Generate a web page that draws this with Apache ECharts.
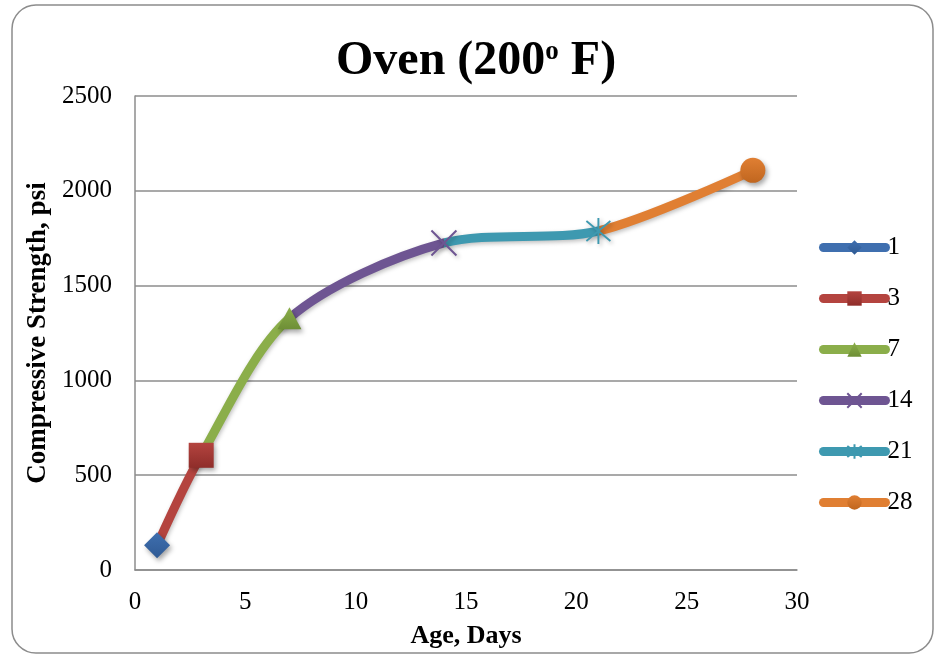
<!DOCTYPE html>
<html>
<head>
<meta charset="utf-8">
<script src="https://cdn.jsdelivr.net/npm/echarts@6/dist/echarts.min.js"></script>
<style>
  html, body { margin: 0; padding: 0; background: #ffffff; }
  #chart { width: 935px; height: 655px; }
</style>
</head>
<body>
<div id="chart"></div>
<script>
// Curing age (days) and compressive strength (psi) for oven-cured specimens
const ageDays = [1, 3, 7, 14, 21, 28];
const strengthPsi = [130, 605, 1328, 1725, 1788, 2108];
const seriesNames = ['1', '3', '7', '14', '21', '28'];
const yTicks = [0, 500, 1000, 1500, 2000, 2500];
const xTicks = [0, 5, 10, 15, 20, 25, 30];

const colors = ['#3F6FAF', '#B4443F', '#8BAE4A', '#6E5592', '#3E99B0', '#E07F33'];
const darkColors = ['#2F5A94', '#8F2D2A', '#6E8F36', '#56417A', '#2E7F94', '#C0661F'];
const symbols = [
  'diamond',
  'rect',
  'triangle',
  'path://M0,0L10,10M10,0L0,10',
  'path://M0,0L10,10M10,0L0,10M5,-1.5L5,11.5',
  'circle'
];
const sizes = [[26, 26], [25, 25], [24, 22], [25, 25], [24, 26], [25, 25]];
const strokeOnly = [false, false, false, true, true, false];

const serif = '"Liberation Serif", "Times New Roman", serif';

function shade(i) {
  return new echarts.graphic.LinearGradient(0, 0, 0, 1, [
    { offset: 0, color: colors[i] },
    { offset: 1, color: darkColors[i] }
  ]);
}

const chart = echarts.init(document.getElementById('chart'));

// one marker series per age, each shown in the legend
const markerSeries = ageDays.map((d, i) => ({
  name: seriesNames[i],
  type: 'line',
  data: [[d, strengthPsi[i]]],
  symbol: symbols[i],
  symbolSize: sizes[i],
  showSymbol: true,
  z: 5,
  lineStyle: { color: colors[i], width: 9 },
  itemStyle: strokeOnly[i]
    ? { color: colors[i], borderColor: colors[i], borderWidth: 2,
        shadowBlur: 4, shadowColor: 'rgba(0,0,0,0.3)', shadowOffsetX: 2, shadowOffsetY: 2 }
    : { color: shade(i), borderWidth: 0,
        shadowBlur: 5, shadowColor: 'rgba(0,0,0,0.35)', shadowOffsetX: 2, shadowOffsetY: 3 },
  emphasis: { disabled: true },
  animation: false
}));

// smooth curve through all points, coloured per segment by the age it ends at
const curveSeries = {
  name: 'curve',
  type: 'line',
  data: ageDays.map((d, i) => [d, strengthPsi[i]]),
  smooth: 0.3,
  showSymbol: false,
  symbol: 'none',
  z: 3,
  lineStyle: { width: 9, cap: 'round',
    shadowBlur: 4, shadowColor: 'rgba(0,0,0,0.25)', shadowOffsetX: 1, shadowOffsetY: 2 },
  emphasis: { disabled: true },
  animation: false
};

const pieces = ageDays.slice(1).map((d, i) => {
  const p = { lte: d, color: colors[i + 1] };
  if (i > 0) p.gt = ageDays[i];
  return p;
});
pieces[pieces.length - 1] = { gt: ageDays[ageDays.length - 2], color: colors[colors.length - 1] };

chart.setOption({
  animation: false,
  backgroundColor: '#ffffff',
  title: {
    text: '{a|Oven (200}{b|o}{a| F)}',
    left: 336,
    top: 38,
    padding: 0,
    textStyle: {
      rich: {
        a: { fontFamily: serif, fontWeight: 'bold', fontSize: 48, color: '#000' },
        b: { fontFamily: serif, fontWeight: 'bold', fontSize: 27, color: '#000', padding: [0, 0, 19, 0] }
      }
    }
  },
  graphic: [{
    type: 'rect',
    shape: { x: 12, y: 5, width: 921, height: 648, r: 24 },
    style: { fill: 'none', stroke: '#8c8c8c', lineWidth: 1.5 },
    silent: true,
    z: -1
  }],
  legend: {
    data: seriesNames,
    orient: 'vertical',
    left: 819,
    top: 235,
    padding: 0,
    itemWidth: 62,
    itemHeight: 18,
    itemGap: 26,
    lineStyle: { width: 9, cap: 'round' },
    textStyle: { fontFamily: serif, fontSize: 25, color: '#000', padding: [0, 0, 0, -3] },
    selectedMode: false
  },
  visualMap: {
    type: 'piecewise',
    show: false,
    dimension: 0,
    seriesIndex: 0,
    pieces: pieces
  },
  grid: { left: 135, right: 138, top: 96, bottom: 85 },
  xAxis: {
    type: 'value',
    min: xTicks[0],
    max: xTicks[xTicks.length - 1],
    interval: xTicks[1] - xTicks[0],
    name: 'Age, Days',
    nameLocation: 'middle',
    nameGap: 53,
    nameTextStyle: { fontFamily: serif, fontWeight: 'bold', fontSize: 26, color: '#000' },
    axisLine: { show: true, lineStyle: { color: '#8c8c8c', width: 1.5 } },
    axisTick: { show: false },
    splitLine: { show: false },
    axisLabel: { fontFamily: serif, fontSize: 25, color: '#000', margin: 20,
      formatter: v => String(v) }
  },
  yAxis: {
    type: 'value',
    min: yTicks[0],
    max: yTicks[yTicks.length - 1],
    interval: yTicks[1] - yTicks[0],
    name: 'Compressive Strength, psi',
    nameLocation: 'middle',
    nameGap: 83,
    nameTextStyle: { fontFamily: serif, fontWeight: 'bold', fontSize: 27, color: '#000' },
    axisLine: { show: true, lineStyle: { color: '#8c8c8c', width: 1.5 } },
    axisTick: { show: false },
    splitLine: { show: true, lineStyle: { color: '#8c8c8c', width: 1.5 } },
    axisLabel: { fontFamily: serif, fontSize: 25, color: '#000', margin: 23,
      formatter: v => String(v) }
  },
  series: [curveSeries].concat(markerSeries)
});
</script>
</body>
</html>
